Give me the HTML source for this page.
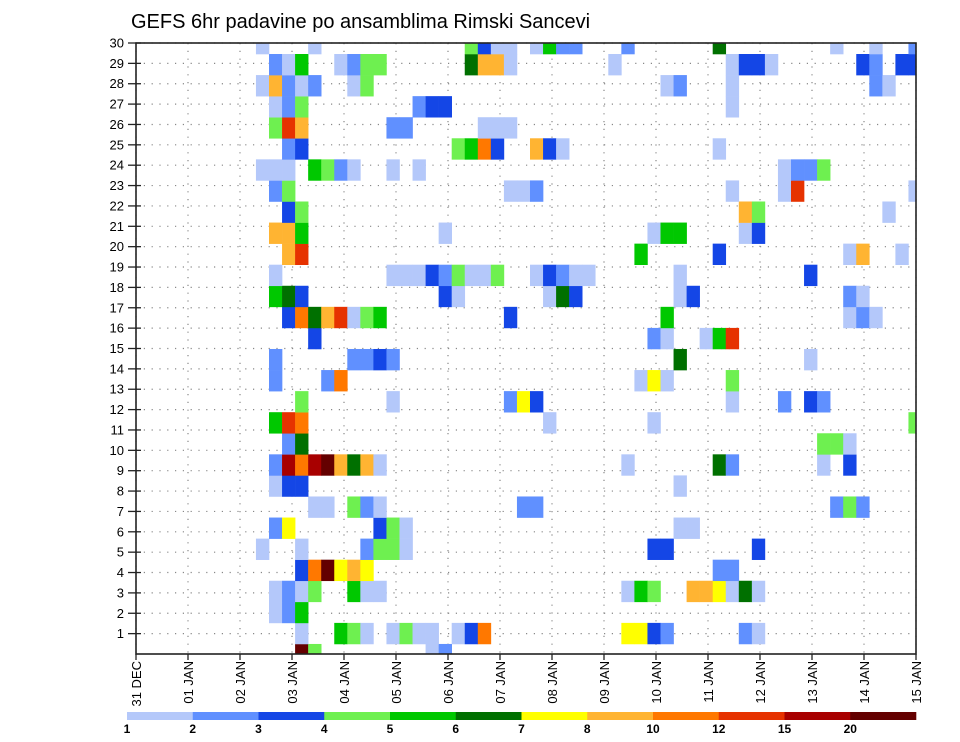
<!DOCTYPE html>
<html><head><meta charset="utf-8"><title>GEFS 6hr padavine</title>
<style>
html,body{margin:0;padding:0;background:#fff;}
svg{display:block;font-family:"Liberation Sans",Arial,sans-serif;}
</style></head>
<body>
<svg id="chart" width="960" height="742" viewBox="0 0 960 742" xmlns="http://www.w3.org/2000/svg">
<text x="131" y="28" font-size="20" fill="#000">GEFS 6hr padavine po ansamblima Rimski Sancevi</text>
<defs><clipPath id="plotclip"><rect x="136" y="43" width="780" height="611"/></clipPath></defs>
<g id="grid"></g>
<g id="cells" clip-path="url(#plotclip)"></g>
<rect x="136" y="43" width="780" height="611" fill="none" stroke="#222" stroke-width="1.6"/>
<g id="yaxis"></g>
<g id="xaxis"></g>
<g id="legend"></g>
</svg>
<script>
// ---- data ----
const dayLabels = ["31 DEC","01 JAN","02 JAN","03 JAN","04 JAN","05 JAN","06 JAN","07 JAN","08 JAN","09 JAN","10 JAN","11 JAN","12 JAN","13 JAN","14 JAN","15 JAN"];
const memberTicks = [1,2,3,4,5,6,7,8,9,10,11,12,13,14,15,16,17,18,19,20,21,22,23,24,25,26,27,28,29,30];
const levels = [1,2,3,4,5,6,7,8,10,12,15,20];
const levelColors = ["#b4c8fa","#6090ff","#1446e6","#6ef050","#00c800","#007000","#ffff00","#ffb432","#ff7800","#e63200","#a80000","#640000"];
// cells: [6-hour column index, ensemble member, precipitation mm]
const cellCols = [];
const cellRows = [];
const cellVals = [];
const rowsData = {
30:"9:1.5 13:1.5 25:4.5 26:3.5 27:1.5 28:1.5 30:1.5 31:5.5 32:2.5 33:2.5 37:2.5 44:6.5 53:1.5 56:1.5 59:2.5",
29:"10:2.5 11:1.5 12:5.5 15:1.5 16:2.5 17:4.5 18:4.5 25:6.5 26:9 27:9 28:1.5 36:1.5 45:1.5 46:3.5 47:3.5 48:1.5 55:3.5 56:2.5 58:3.5 59:3.5",
28:"9:1.5 10:9 11:2.5 12:1.5 13:2.5 16:1.5 17:4.5 40:1.5 41:2.5 45:1.5 56:2.5 57:1.5",
27:"10:1.5 11:2.5 12:4.5 21:2.5 22:3.5 23:3.5 45:1.5",
26:"10:4.5 11:13.5 12:9 19:2.5 20:2.5 26:1.5 27:1.5 28:1.5",
25:"11:2.5 12:3.5 24:4.5 25:5.5 26:11 27:3.5 30:9 31:3.5 32:1.5 44:1.5",
24:"9:1.5 10:1.5 11:1.5 13:5.5 14:4.5 15:2.5 16:1.5 19:1.5 21:1.5 49:1.5 50:2.5 51:2.5 52:4.5",
23:"10:2.5 11:4.5 28:1.5 29:1.5 30:2.5 45:1.5 49:1.5 50:13.5 59:1.5",
22:"11:3.5 12:4.5 46:9 47:4.5 57:1.5",
21:"10:9 11:9 12:5.5 23:1.5 39:1.5 40:5.5 41:5.5 46:1.5 47:3.5",
20:"11:9 12:13.5 38:5.5 44:3.5 54:1.5 55:9 58:1.5",
19:"10:1.5 19:1.5 20:1.5 21:1.5 22:3.5 23:2.5 24:4.5 25:1.5 26:1.5 27:4.5 30:1.5 31:3.5 32:2.5 33:1.5 34:1.5 41:1.5 51:3.5",
18:"10:5.5 11:6.5 12:3.5 23:3.5 24:1.5 31:1.5 32:6.5 33:3.5 41:1.5 42:3.5 54:2.5 55:1.5",
17:"11:3.5 12:11 13:6.5 14:9 15:13.5 16:1.5 17:4.5 18:5.5 28:3.5 40:5.5 54:1.5 55:2.5 56:1.5",
15:"13:3.5 39:2.5 40:1.5 43:1.5 44:5.5 45:13.5",
14:"10:2.5 16:2.5 17:2.5 18:3.5 19:2.5 41:6.5 51:1.5",
13:"10:2.5 14:2.5 15:11 38:1.5 39:7.5 40:1.5 45:4.5",
12:"12:4.5 19:1.5 28:2.5 29:7.5 30:3.5 45:1.5 49:2.5 51:3.5 52:2.5",
11:"10:5.5 11:13.5 12:11 31:1.5 39:1.5 59:4.5",
10:"11:2.5 12:6.5 52:4.5 53:4.5 54:1.5",
9:"10:2.5 11:17 12:11 13:17 14:25 15:9 16:6.5 17:9 18:1.5 37:1.5 44:6.5 45:2.5 52:1.5 54:3.5",
8:"10:1.5 11:3.5 12:3.5 41:1.5",
7:"13:1.5 14:1.5 16:4.5 17:2.5 18:1.5 29:2.5 30:2.5 53:2.5 54:4.5 55:2.5",
6:"10:2.5 11:7.5 18:3.5 19:4.5 20:1.5 41:1.5 42:1.5",
5:"9:1.5 12:1.5 17:2.5 18:4.5 19:4.5 20:1.5 39:3.5 40:3.5 47:3.5",
4:"12:3.5 13:11 14:25 15:7.5 16:9 17:7.5 44:2.5 45:2.5",
3:"10:1.5 11:2.5 12:1.5 13:4.5 16:5.5 17:1.5 18:1.5 37:1.5 38:5.5 39:4.5 42:9 43:9 44:7.5 45:1.5 46:6.5 47:1.5",
2:"10:1.5 11:2.5 12:5.5",
1:"12:1.5 15:5.5 16:4.5 17:1.5 19:1.5 20:4.5 21:1.5 22:1.5 24:1.5 25:3.5 26:11 37:7.5 38:7.5 39:3.5 40:2.5 46:2.5 47:1.5",
0:"12:25 13:4.5 22:1.5 23:2.5"
};
Object.keys(rowsData).forEach(r=>{
  rowsData[r].split(" ").forEach(t=>{const p=t.split(":");cellCols.push(+p[0]);cellRows.push(+r);cellVals.push(+p[1]);});
});

// ---- scales ----
const NS="http://www.w3.org/2000/svg";
const PX0=136, PX1=916, PY0=43, PY1=654;
function xDay(d){return PX0 + d*(PX1-PX0)/15;}
function yTick(r){return PY1 - r*(PY1-PY0)/30;}
function xCell(c){return 138.5 + c*13.05;}
const CW=13.05;
function yb(r){ return r>=16 ? 30-r : 29-r; }
function yCellTop(r){const b=yb(r); return b===0?PY0:54+(b-1)*21.07;}
function yCellBot(r){const b=yb(r); return b===0?54:Math.min(PY1,54+b*21.07);}
function colorFor(v){let i=0;for(let k=0;k<levels.length;k++){if(v>=levels[k])i=k;}return levelColors[i];}
function mk(tag,attrs,parent){const e=document.createElementNS(NS,tag);for(const k in attrs)e.setAttribute(k,attrs[k]);parent.appendChild(e);return e;}

// grid
const grid=document.getElementById('grid');
memberTicks.forEach(r=>{
  const y=yTick(r);
  const l=mk('line',{x1:PX0,x2:PX1,y1:y,y2:y,stroke:'#888','stroke-width':1.2,'stroke-dasharray':'1.2,6.6'},grid);
  
  
});
dayLabels.forEach((d,i)=>{
  const x=xDay(i);
  const l=mk('line',{x1:x,x2:x,y1:PY0,y2:PY1,stroke:'#888','stroke-width':1.2,'stroke-dasharray':'1.2,6.6'},grid);
  
  
});

// cells
const cg=document.getElementById('cells');
for(let i=0;i<cellVals.length;i++){
  const x=xCell(cellCols[i]), y0=yCellTop(cellRows[i]), y1=yCellBot(cellRows[i]);
  const rc=mk('rect',{x:x.toFixed(2),y:y0.toFixed(2),width:CW+0.3,height:(y1-y0+0.3).toFixed(2),fill:colorFor(cellVals[i])},cg);
  
  
}

// y axis
const ya=document.getElementById('yaxis');
memberTicks.forEach(r=>{
  const y=yTick(r);
  const tk=mk('line',{x1:128,x2:141,y1:y,y2:y,stroke:'#222','stroke-width':1.3},ya);
  
  
  const t=mk('text',{x:124,y:y+4.5,'text-anchor':'end','font-size':13,fill:'#000'},ya);
  t.textContent=r;
  
  
});

// x axis
const xa=document.getElementById('xaxis');
dayLabels.forEach((d,i)=>{
  const x=xDay(i);
  const tk=mk('line',{x1:x,x2:x,y1:PY1,y2:PY1+6,stroke:'#222','stroke-width':1.3},xa);
  
  
  const t=mk('text',{transform:'translate('+(x+5)+',661) rotate(-90)','text-anchor':'end','font-size':13,fill:'#000'},xa);
  t.textContent=d;
  
  
});

// legend
const lg=document.getElementById('legend');
const LX0=127, LW=(916-127)/12;
levelColors.forEach((c,i)=>{
  const r=mk('rect',{x:LX0+i*LW,y:712,width:LW+0.3,height:8,fill:c},lg);
  
  
  const t=mk('text',{x:LX0+i*LW,y:733,'text-anchor':'middle','font-size':12,'font-weight':'bold',fill:'#000'},lg);
  t.textContent=levels[i];
  
  
});
</script>
</body></html>
